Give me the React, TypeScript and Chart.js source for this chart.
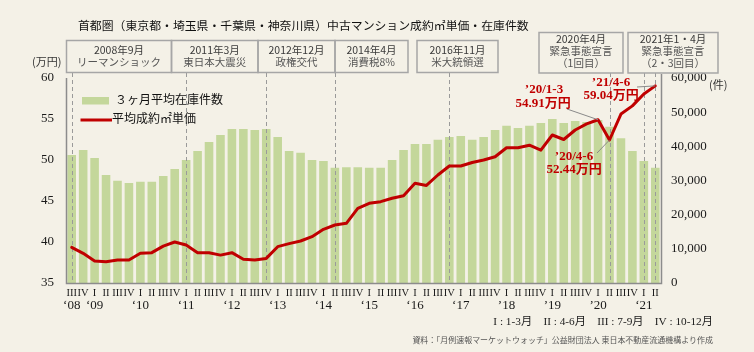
import React, { useEffect, useRef } from "react";
import { Chart, registerables } from "chart.js";

Chart.register(...registerables);

// ---- data ----
const quarterLabels = [
  "III", "IV",
  "I", "II", "III", "IV",
  "I", "II", "III", "IV",
  "I", "II", "III", "IV",
  "I", "II", "III", "IV",
  "I", "II", "III", "IV",
  "I", "II", "III", "IV",
  "I", "II", "III", "IV",
  "I", "II", "III", "IV",
  "I", "II", "III", "IV",
  "I", "II", "III", "IV",
  "I", "II", "III", "IV",
  "I", "II", "III", "IV",
  "I", "II",
];

const yearLabels = [
  "‘08", "",
  "‘09", "", "", "",
  "‘10", "", "", "",
  "‘11", "", "", "",
  "‘12", "", "", "",
  "‘13", "", "", "",
  "‘14", "", "", "",
  "‘15", "", "", "",
  "‘16", "", "", "",
  "‘17", "", "", "",
  "’18", "", "", "",
  "’19", "", "", "",
  "’20", "", "", "",
  "‘21", "",
];

// 3ヶ月平均在庫件数 (件)
const inventory = [
  37500, 38900,
  36600, 31600, 29900, 29300,
  29600, 29600, 31300, 33400,
  36000, 38600, 41300, 43300,
  45100, 45100, 44800, 45100,
  42700, 38600, 38100, 36000,
  35700, 33700, 33900, 33900,
  33700, 33700, 36000, 38900,
  40700, 40700, 41900, 42700,
  43000, 41900, 42700, 44800,
  46000, 45400, 46000, 46800,
  48000, 46800, 47400, 47100,
  47700, 45700, 42400, 38600,
  35700, 33700,
];

// 平均成約㎡単価 (万円)
const unitPrice = [
  39.35, 38.62,
  37.68, 37.6, 37.8, 37.8,
  38.62, 38.7, 39.5, 40.0,
  39.63, 38.7, 38.7, 38.4,
  38.7, 37.9, 37.8, 38.0,
  39.43, 39.8, 40.12, 40.65,
  41.55, 42.07, 42.28, 44.1,
  44.72, 44.92, 45.33, 45.65,
  47.16, 46.9, 48.17, 49.27,
  49.27, 49.7, 50.0, 50.4,
  51.5, 51.5, 51.8, 51.2,
  53.05, 52.5, 53.66, 54.4,
  54.91, 52.44, 55.6, 56.6,
  58.05, 59.04,
];

const leftTicks = [35, 40, 45, 50, 55, 60];
const rightTicks = [0, 10000, 20000, 30000, 40000, 50000, 60000];

// quarters where an event happened (index into categories)
const eventIndices = [0, 10, 17, 23, 33, 47, 50, 51];

const eventTexts = [
  ["2008年9月", "リーマンショック"],
  ["2011年3月", "東日本大震災"],
  ["2012年12月", "政権交代"],
  ["2014年4月", "消費税8%"],
  ["2016年11月", "米大統領選"],
  ["2020年4月", "緊急事態宣言", "（1回目）"],
  ["2021年1・4月", "緊急事態宣言", "（2・3回目）"],
];

const calloutIndices = [46, 47, 51];
const calloutTexts = [
  ["’20/1-3", "54.91万円"],
  ["’20/4-6", "52.44万円"],
  ["’21/4-6", "59.04万円"],
];

const TITLE = "首都圏（東京都・埼玉県・千葉県・神奈川県）中古マンション成約㎡単価・在庫件数";
const LEGEND_BAR = "３ヶ月平均在庫件数";
const LEGEND_LINE = "平均成約㎡単価";
const QUARTER_NOTE = "I : 1-3月　II : 4-6月　III : 7-9月　IV : 10-12月";
const SOURCE = "資料：「月例速報マーケットウォッチ」公益財団法人 東日本不動産流通機構より作成";

// ---- styles ----
const BG = "#F4F1E7";
const BAR_COLOR = "#C4D79B";
const LINE_COLOR = "#C00000";
const SERIF = '"Liberation Serif", "Noto Sans CJK JP", serif';
const GOTHIC = '"Noto Sans CJK JP", "Noto Sans", sans-serif';

function fitText(ctx: CanvasRenderingContext2D, text: string, x: number, y: number, width: number, weight: string, family: string, base: number, align: CanvasTextAlign) {
  ctx.font = `${weight} ${base}px ${family}`;
  const w = ctx.measureText(text).width;
  const size = Math.min(base * 1.4, base * (width / w));
  ctx.font = `${weight} ${size.toFixed(2)}px ${family}`;
  ctx.textAlign = align;
  ctx.fillText(text, x, y);
}

const decor = {
  id: "decor",
  beforeDraw(chart: any) {
    const c = chart.ctx;
    c.save();
    c.fillStyle = BG;
    c.fillRect(0, 0, chart.width, chart.height);
    c.restore();
  },
  afterDatasetDraw(chart: any, args: any) {
    if (args.index !== 0) return;
    const ctx = chart.ctx;
    const xs = chart.scales.x;
    const bottom = chart.chartArea.bottom;
    ctx.save();
    ctx.strokeStyle = "#9a9a9a";
    ctx.lineWidth = 1;
    ctx.setLineDash([4, 3]);
    eventIndices.forEach((i) => {
      const px = Math.round(xs.getPixelForValue(i)) + 0.5;
      ctx.beginPath();
      ctx.moveTo(px, 73);
      ctx.lineTo(px, bottom);
      ctx.stroke();
    });
    ctx.restore();
  },
  afterDraw(chart: any) {
    const ctx: CanvasRenderingContext2D = chart.ctx;
    const area = chart.chartArea;
    const xs = chart.scales.x;
    const ys = chart.scales.y;
    const ys1 = chart.scales.y1;
    ctx.save();

    // axis lines
    ctx.strokeStyle = "#8c8c8c";
    ctx.lineWidth = 1.5;
    ctx.beginPath();
    ctx.moveTo(area.left + 0.5, area.top);
    ctx.lineTo(area.left + 0.5, area.bottom + 0.5);
    ctx.lineTo(area.right + 0.5, area.bottom + 0.5);
    ctx.lineTo(area.right + 0.5, area.top - 4);
    ctx.stroke();

    // left ticks
    ctx.fillStyle = "#1a1a1a";
    ctx.textBaseline = "middle";
    ctx.font = `13px ${SERIF}`;
    ctx.textAlign = "right";
    leftTicks.forEach((v) => ctx.fillText(String(v), 54, ys.getPixelForValue(v)));
    // right ticks
    ctx.font = `13px ${SERIF}`;
    ctx.textAlign = "left";
    rightTicks.forEach((v) => ctx.fillText(v.toLocaleString("en-US"), 671, ys1.getPixelForValue(v)));

    // units
    ctx.fillStyle = "#333";
    ctx.font = `11px ${GOTHIC}`;
    ctx.textAlign = "left";
    ctx.fillText("(万円)", 32, 62);
    ctx.fillText("(件)", 709, 85);

    // x labels
    ctx.fillStyle = "#1a1a1a";
    ctx.textAlign = "center";
    ctx.font = `10.5px ${SERIF}`;
    quarterLabels.forEach((q, i) => ctx.fillText(q, xs.getPixelForValue(i), 293));
    ctx.font = `13px ${SERIF}`;
    yearLabels.forEach((y, i) => {
      if (y) ctx.fillText(y, xs.getPixelForValue(i), 306);
    });

    // title
    ctx.fillStyle = "#111";
    fitText(ctx, TITLE, 78, 25, 451, "normal", GOTHIC, 13, "left");

    // event boxes
    const boxes = [
      [66.5, 171.5, 40.5, 72.5],
      [171.5, 258, 40.5, 72.5],
      [258, 335, 40.5, 72.5],
      [335, 408, 40.5, 72.5],
      [417, 498, 40.5, 72.5],
      [539, 623, 32.5, 73],
      [628, 718, 32.5, 73],
    ];
    ctx.strokeStyle = "#a6a6a6";
    ctx.lineWidth = 1.5;
    boxes.forEach((b, k) => {
      ctx.strokeRect(b[0], b[2], b[1] - b[0], b[3] - b[2]);
      const lines = eventTexts[k];
      const cx = (b[0] + b[1]) / 2;
      const ys0 = lines.length === 2 ? [50.5, 62.5] : [39.5, 51.5, 63];
      lines.forEach((t, j) => {
        ctx.fillStyle = j === 0 ? "#3a3a3a" : "#555";
        ctx.font = `10.5px ${GOTHIC}`;
        ctx.textAlign = "center";
        ctx.fillText(t, cx, ys0[j]);
      });
    });

    // legend
    ctx.fillStyle = BAR_COLOR;
    ctx.fillRect(82, 97, 27, 7.5);
    ctx.strokeStyle = LINE_COLOR;
    ctx.lineWidth = 3;
    ctx.beginPath();
    ctx.moveTo(80.5, 120);
    ctx.lineTo(112, 120);
    ctx.stroke();
    ctx.fillStyle = "#111";
    ctx.font = `12px ${GOTHIC}`;
    ctx.textAlign = "left";
    ctx.fillText(LEGEND_BAR, 115, 99);
    ctx.fillText(LEGEND_LINE, 112, 118);

    // callouts
    const labelPos = [
      [544, 90, 543, 103.5, 567, 109],
      [574, 157, 574, 169.5, 597, 153],
      [611, 83, 611, 96, 637, 87],
    ];
    calloutIndices.forEach((idx, k) => {
      const p = labelPos[k];
      const px = xs.getPixelForValue(idx);
      const py = ys.getPixelForValue(unitPrice[idx]);
      ctx.strokeStyle = "#8a8a8a";
      ctx.lineWidth = 1;
      ctx.beginPath();
      ctx.moveTo(p[4], p[5]);
      ctx.lineTo(px, py);
      ctx.stroke();
      ctx.fillStyle = LINE_COLOR;
      ctx.font = `bold 13px ${SERIF}`;
      ctx.textAlign = "center";
      ctx.fillText(calloutTexts[k][0], p[0], p[1]);
      ctx.fillText(calloutTexts[k][1], p[2], p[3]);
    });

    // notes
    ctx.fillStyle = "#1a1a1a";
    fitText(ctx, QUARTER_NOTE, 713, 322, 220, "normal", SERIF, 13, "right");
    ctx.fillStyle = "#555";
    fitText(ctx, SOURCE, 713, 340, 301, "normal", GOTHIC, 8.5, "right");

    ctx.restore();
  },
};

export default function App() {
  const ref = useRef<HTMLCanvasElement | null>(null);
  useEffect(() => {
    document.body.style.margin = "0";
    const canvas = ref.current;
    if (!canvas) return;
    const chart = new Chart(canvas, {
      type: "bar",
      data: {
        labels: quarterLabels,
        datasets: [
          {
            type: "bar",
            label: LEGEND_BAR,
            data: inventory,
            yAxisID: "y1",
            backgroundColor: BAR_COLOR,
            borderWidth: 0,
            barPercentage: 0.75,
            categoryPercentage: 1,
            order: 1,
          },
          {
            type: "line",
            label: LEGEND_LINE,
            data: unitPrice,
            yAxisID: "y",
            borderColor: LINE_COLOR,
            borderWidth: 3,
            pointRadius: 0,
            tension: 0,
            borderJoinStyle: "round",
            borderCapStyle: "round",
            fill: false,
            order: 0,
          },
        ],
      } as any,
      options: {
        responsive: false,
        animation: false,
        devicePixelRatio: 1,
        layout: { padding: { left: 66, right: 93, top: 78, bottom: 69 } },
        plugins: {
          legend: { display: false },
          tooltip: { enabled: false },
          title: { display: false },
        },
        scales: {
          x: { type: "category", display: false, offset: true, grid: { display: false } },
          y: { type: "linear", display: false, min: 35, max: 60, position: "left" },
          y1: { type: "linear", display: false, min: 0, max: 60000, position: "right" },
        },
      } as any,
      plugins: [decor],
    });
    return () => chart.destroy();
  }, []);
  return (
    <div style={{ width: 754, height: 352, position: "relative" }}>
      <canvas ref={ref} width={754} height={352} style={{ display: "block", width: 754, height: 352 }} />
    </div>
  );
}
